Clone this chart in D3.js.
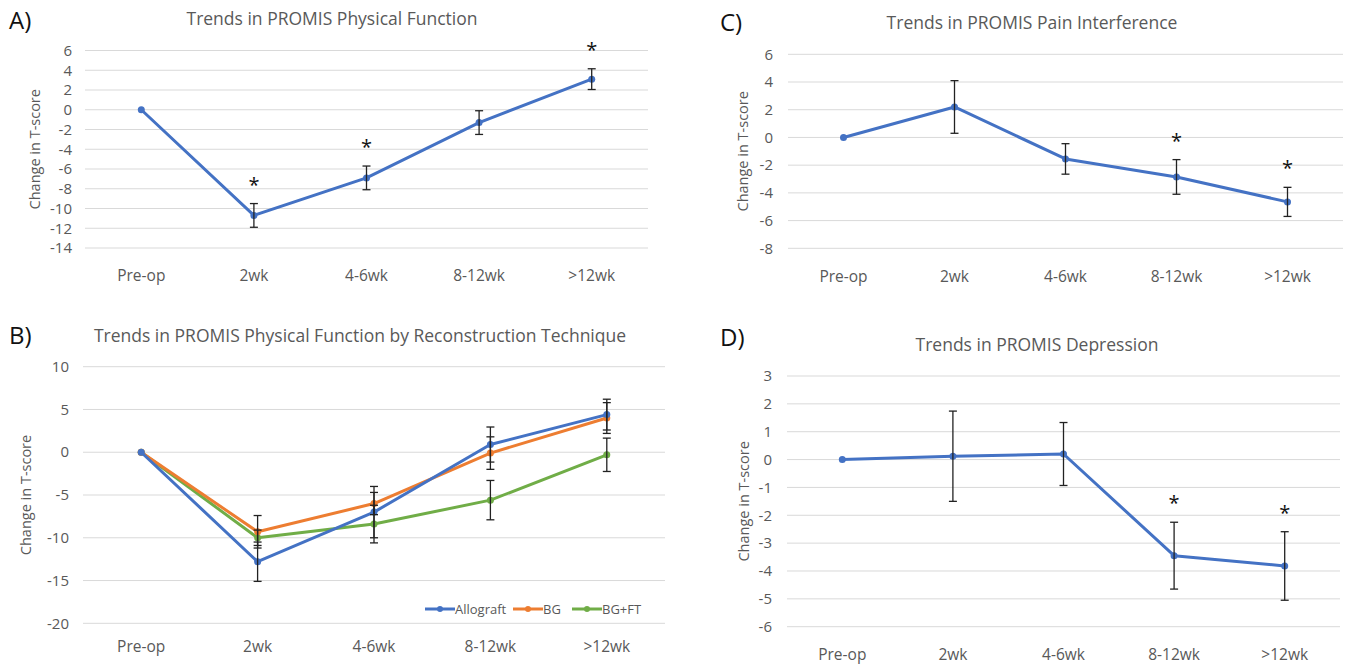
<!DOCTYPE html>
<html>
<head>
<meta charset="utf-8">
<script src="https://cdn.jsdelivr.net/npm/d3@7"></script>
<style>
  body { margin: 0; background: #fff; }
  text { font-family: "Open Sans", sans-serif; }
</style>
</head>
<body>
<div class="container"></div>
<script>
// categories shared by every panel
const timepoints = ["Pre-op", "2wk", "4-6wk", "8-12wk", ">12wk"]

// A) physical function
const pfMean = [0, -10.7, -6.9, -1.3, 3.1]
const pfErr = [0, 1.2, 1.2, 1.2, 1.05]
const pfStar = [false, true, true, false, true]
const pfTicks = [6, 4, 2, 0, -2, -4, -6, -8, -10, -12, -14]

// B) physical function by technique
const techNames = ["Allograft", "BG", "BG+FT"]
const allograftMean = [0, -12.8, -7.0, 0.9, 4.4]
const allograftErr = [0, 2.3, 3.0, 2.05, 1.8]
const bgMean = [0, -9.3, -6.0, -0.1, 4.0]
const bgErr = [0, 1.9, 1.3, 1.9, 1.8]
const bgftMean = [0, -10.0, -8.4, -5.6, -0.3]
const bgftErr = [0, 0.9, 2.2, 2.3, 1.95]
const techTicks = [10, 5, 0, -5, -10, -15, -20]

// C) pain interference
const piMean = [0, 2.2, -1.55, -2.85, -4.65]
const piErr = [0, 1.9, 1.1, 1.25, 1.05]
const piStar = [false, false, false, true, true]
const piTicks = [6, 4, 2, 0, -2, -4, -6, -8]

// D) depression
const depMean = [0, 0.12, 0.2, -3.45, -3.82]
const depErr = [0, 1.62, 1.13, 1.2, 1.23]
const depStar = [false, false, false, true, true]
const depTicks = [3, 2, 1, 0, -1, -2, -3, -4, -5, -6]

const blue = "#4472c4", orange = "#ed7d31", green = "#70ad47"
const textGray = "#595959"

const svg = d3.select(".container")
    .append("svg")
    .attr("width", 1349)
    .attr("height", 666)

function drawPanel(p) {
    const g = svg.append("g")

    const x = d3.scaleBand()
        .domain(timepoints)
        .range([p.left, p.right])

    const y = d3.scaleLinear()
        .domain([p.ticks[p.ticks.length - 1], p.ticks[0]])
        .range([p.bottom, p.top])

    // gridlines
    g.selectAll(".grid")
        .data(p.ticks)
        .join("line")
        .attr("x1", p.left)
        .attr("x2", p.right)
        .attr("y1", d => y(d))
        .attr("y2", d => y(d))
        .attr("stroke", "#d9d9d9")
        .attr("stroke-width", 1)

    // y tick labels
    g.selectAll(".ytick")
        .data(p.ticks)
        .join("text")
        .attr("x", p.tickX)
        .attr("y", d => y(d))
        .attr("dy", "0.35em")
        .attr("text-anchor", "end")
        .attr("font-size", 15)
        .attr("fill", textGray)
        .text(d => d)

    // x labels
    g.selectAll(".xtick")
        .data(timepoints)
        .join("text")
        .attr("x", d => x(d) + x.bandwidth() / 2)
        .attr("y", p.xLabelY)
        .attr("text-anchor", "middle")
        .attr("font-size", 15.5)
        .attr("fill", textGray)
        .text(d => d)

    // y axis title
    g.append("text")
        .attr("transform", `translate(${p.yTitleX}, ${(p.top + p.bottom) / 2}) rotate(-90)`)
        .attr("text-anchor", "middle")
        .attr("font-size", 14.5)
        .attr("fill", textGray)
        .text("Change in T-score")

    // chart title
    g.append("text")
        .attr("x", p.titleX)
        .attr("y", p.titleY)
        .attr("text-anchor", "middle")
        .attr("font-size", 17.5)
        .attr("fill", textGray)
        .text(p.title)

    // panel letter
    g.append("text")
        .attr("x", p.letterX)
        .attr("y", p.letterY)
        .attr("font-size", 24)
        .attr("fill", "#111")
        .text(p.letter)

    const cx = i => x(timepoints[i]) + x.bandwidth() / 2
    const line = d3.line()
        .x((d, i) => cx(i))
        .y(d => y(d))

    p.series.forEach(s => {
        g.append("path")
            .datum(s.mean)
            .attr("d", line)
            .attr("fill", "none")
            .attr("stroke", s.color)
            .attr("stroke-width", 3)
            .attr("stroke-linejoin", "round")

        g.selectAll(null)
            .data(s.mean)
            .join("circle")
            .attr("cx", (d, i) => cx(i))
            .attr("cy", d => y(d))
            .attr("r", 3.5)
            .attr("fill", s.color)
    })

    // error bars on top
    p.series.forEach(s => {
        const bars = s.mean.map((m, i) => ({i, lo: m - s.err[i], hi: m + s.err[i], e: s.err[i]}))
            .filter(d => d.e > 0)
        const eb = g.selectAll(null)
            .data(bars)
            .join("g")
            .attr("stroke", "#222")
            .attr("stroke-width", 1.3)
        eb.append("line")
            .attr("x1", d => cx(d.i)).attr("x2", d => cx(d.i))
            .attr("y1", d => y(d.hi)).attr("y2", d => y(d.lo))
        eb.append("line")
            .attr("x1", d => cx(d.i) - 4).attr("x2", d => cx(d.i) + 4)
            .attr("y1", d => y(d.hi)).attr("y2", d => y(d.hi))
        eb.append("line")
            .attr("x1", d => cx(d.i) - 4).attr("x2", d => cx(d.i) + 4)
            .attr("y1", d => y(d.lo)).attr("y2", d => y(d.lo))

        if (s.star) {
            g.selectAll(null)
                .data(bars.filter(d => s.star[d.i]))
                .join("text")
                .attr("x", d => cx(d.i))
                .attr("y", d => y(d.hi) - 12)
                .attr("text-anchor", "middle")
                .attr("font-size", 20)
                .attr("fill", "#111")
                .text("*")
        }
    })

    return g
}

drawPanel({
    letter: "A)", letterX: 9, letterY: 29,
    title: "Trends in PROMIS Physical Function", titleX: 332, titleY: 25,
    left: 85, right: 648, top: 50.5, bottom: 248, ticks: pfTicks,
    tickX: 72, xLabelY: 281, yTitleX: 40,
    series: [{mean: pfMean, err: pfErr, color: blue, star: pfStar}]
})

const panelB = drawPanel({
    letter: "B)", letterX: 9, letterY: 344,
    title: "Trends in PROMIS Physical Function by Reconstruction Technique", titleX: 360, titleY: 342,
    left: 83, right: 665, top: 366.7, bottom: 623.3, ticks: techTicks,
    tickX: 69, xLabelY: 652, yTitleX: 31,
    series: [
        {mean: bgftMean, err: bgftErr, color: green},
        {mean: bgMean, err: bgErr, color: orange},
        {mean: allograftMean, err: allograftErr, color: blue}
    ]
})

drawPanel({
    letter: "C)", letterX: 720, letterY: 31,
    title: "Trends in PROMIS Pain Interference", titleX: 1032, titleY: 29,
    left: 788, right: 1343, top: 54.3, bottom: 248.3, ticks: piTicks,
    tickX: 773, xLabelY: 282, yTitleX: 748,
    series: [{mean: piMean, err: piErr, color: blue, star: piStar}]
})

drawPanel({
    letter: "D)", letterX: 720, letterY: 346,
    title: "Trends in PROMIS Depression", titleX: 1037, titleY: 351,
    left: 787, right: 1340, top: 376, bottom: 626.7, ticks: depTicks,
    tickX: 772, xLabelY: 660, yTitleX: 749,
    series: [{mean: depMean, err: depErr, color: blue, star: depStar}]
})

// legend for panel B
const legendColors = [blue, orange, green]
const legendX = [425, 513, 572]
const legend = panelB.selectAll(".legend")
    .data(techNames)
    .join("g")
    .attr("transform", (d, i) => `translate(${legendX[i]}, 609)`)
legend.append("line")
    .attr("x1", 0).attr("x2", 30)
    .attr("stroke", (d, i) => legendColors[i])
    .attr("stroke-width", 3)
legend.append("circle")
    .attr("cx", 15).attr("r", 3)
    .attr("fill", (d, i) => legendColors[i])
legend.append("text")
    .attr("x", 30)
    .attr("dy", "0.35em")
    .attr("font-size", 13)
    .attr("fill", textGray)
    .text(d => d)
</script>
</body>
</html>
